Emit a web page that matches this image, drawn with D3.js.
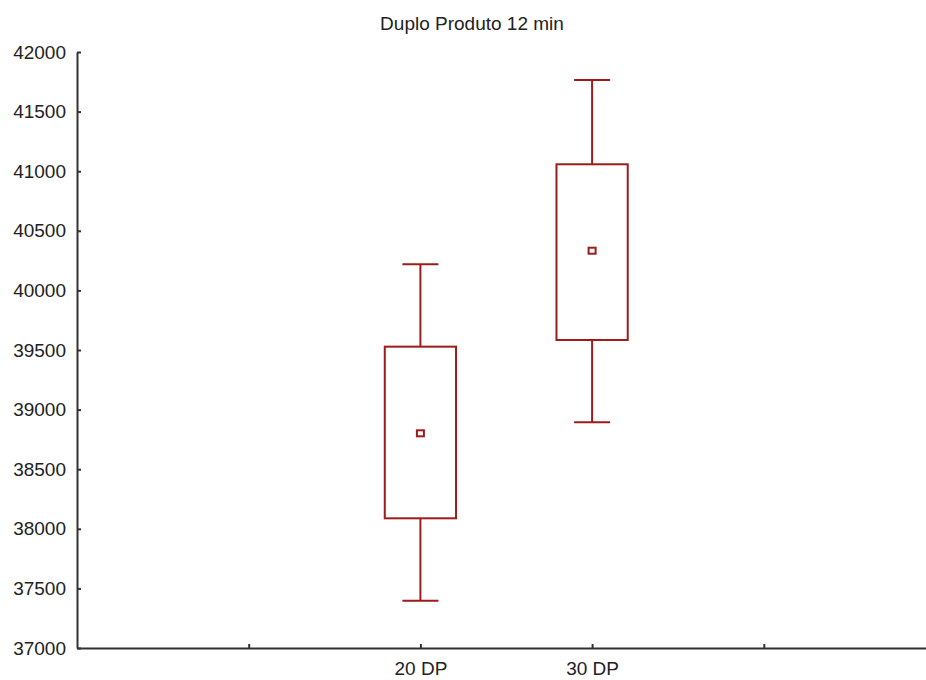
<!DOCTYPE html>
<html lang="pt">
<head>
<meta charset="utf-8">
<script src="https://cdn.jsdelivr.net/npm/d3@7"></script>
<style>
  body { margin: 0; background: #fff; }
  text { font-family: "Liberation Sans", Arial, sans-serif; fill: #222; }
  .axis path, .axis line { stroke: #333; stroke-width: 2px; }
  .axis text { font-size: 19px; }
</style>
</head>
<body>
<svg width="926" height="680"></svg>
<script>
// dados (media, caixa e bigodes)
var groups = ["20 DP", "30 DP"];
var means = [38801, 40333];
var boxLow = [38088, 39584];
var boxHigh = [39528, 41058];
var whiskLow = [37397, 38893];
var whiskHigh = [40219, 41765];
var yTicks = [37000, 37500, 38000, 38500, 39000, 39500, 40000, 40500, 41000, 41500, 42000];

var svg = d3.select("svg"),
    plotLeft = 77, plotTop = 52, plotBottom = 648;

var slots = ["_a"].concat(groups, ["_b"]);
var x = d3.scalePoint().domain(slots).range([plotLeft, 935.5]).padding(1);
var y = d3.scaleLinear().domain([37000, 42000]).range([plotBottom, plotTop]);
var step = x.step();
var red = "#9e1b1b";

svg.append("text")
    .attr("x", 472).attr("y", 29.5)
    .attr("text-anchor", "middle")
    .style("font-size", "19px")
    .text("Duplo Produto 12 min");

svg.append("g").attr("class", "axis")
    .attr("transform", "translate(" + plotLeft + ",0)")
    .call(d3.axisLeft(y).tickValues(yTicks).tickFormat(d3.format("d"))
        .tickSizeInner(-4).tickSizeOuter(0).tickPadding(11));

svg.append("g").attr("class", "axis")
    .attr("transform", "translate(0," + plotBottom + ")")
    .call(d3.axisBottom(x).tickSizeInner(-4).tickSizeOuter(0).tickPadding(14)
        .tickFormat(function (d) { return d.charAt(0) == "_" ? "" : d; }));

var g = svg.append("g")
    .attr("stroke", red).attr("stroke-width", 2).attr("fill", "none");

groups.forEach(function (name, i) {
    var cx = x(name), bw = step * 0.415, cw = step * 0.21;
    // bigodes
    g.append("line").attr("x1", cx).attr("x2", cx)
        .attr("y1", y(whiskHigh[i])).attr("y2", y(boxHigh[i]));
    g.append("line").attr("x1", cx).attr("x2", cx)
        .attr("y1", y(boxLow[i])).attr("y2", y(whiskLow[i]));
    g.append("line").attr("x1", cx - cw / 2).attr("x2", cx + cw / 2)
        .attr("y1", y(whiskHigh[i])).attr("y2", y(whiskHigh[i]));
    g.append("line").attr("x1", cx - cw / 2).attr("x2", cx + cw / 2)
        .attr("y1", y(whiskLow[i])).attr("y2", y(whiskLow[i]));
    // caixa
    g.append("rect")
        .attr("x", cx - bw / 2).attr("width", bw)
        .attr("y", y(boxHigh[i])).attr("height", y(boxLow[i]) - y(boxHigh[i]));
    // media
    g.append("rect")
        .attr("x", cx - 3.5).attr("y", y(means[i]) - 3)
        .attr("width", 7).attr("height", 6);
});
</script>
</body>
</html>
